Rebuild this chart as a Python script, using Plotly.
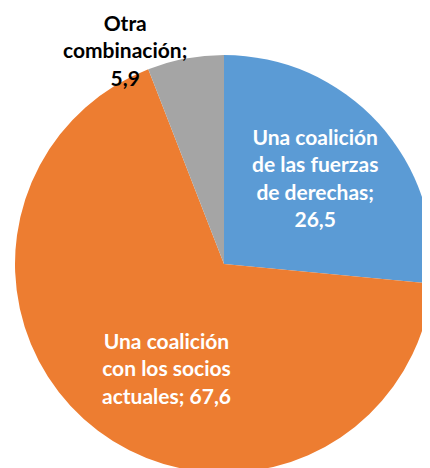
import plotly.graph_objects as go

# data
labels = ["Una coalición de las fuerzas de derechas",
          "Una coalición con los socios actuales",
          "Otra combinación"]
label_lines = [["Una coalición", "de las fuerzas", "de derechas;"],
               ["Una coalición", "con los socios", "actuales;"],
               ["Otra", "combinación;"]]
values = [26.5, 67.6, 5.9]
colors = ["#5B9BD5", "#ED7D31", "#A5A5A5"]

W, H = 430, 468
OFF = 8  # page body margin

fig = go.Figure(go.Pie(
    labels=labels,
    values=values,
    sort=False,
    direction="clockwise",
    rotation=0,
    marker=dict(colors=colors, line=dict(width=0)),
    textinfo="none",
    hoverinfo="label+value",
    domain=dict(x=[7 / W, 425 / W], y=[1 - 465 / H, 1 - 47 / H]),
    showlegend=False,
))


def fmt(v):
    return f"{v:.1f}".replace(".", ",")


# label centres in window pixels
label_pos = [(315, 177), (166, 368), (125, 50)]
label_color = ["white", "white", "black"]

for lines, v, (px, py), col in zip(label_lines, values, label_pos, label_color):
    if lines[-1] == "actuales;":
        txt = "<br>".join(lines[:-1] + [lines[-1] + " " + fmt(v)])
    else:
        txt = "<br>".join(lines + [fmt(v)])
    fig.add_annotation(
        x=(px - OFF) / W, y=1 - (py - OFF) / H, xref="paper", yref="paper",
        xanchor="center", yanchor="middle",
        text=f"<b>{txt}</b>", showarrow=False, align="center",
        font=dict(family="Lato", size=21, color=col),
    )

fig.update_layout(
    width=W, height=H,
    margin=dict(l=0, r=0, t=0, b=0),
    paper_bgcolor="white",
    plot_bgcolor="white",
)

fig.write_html("out.html")
